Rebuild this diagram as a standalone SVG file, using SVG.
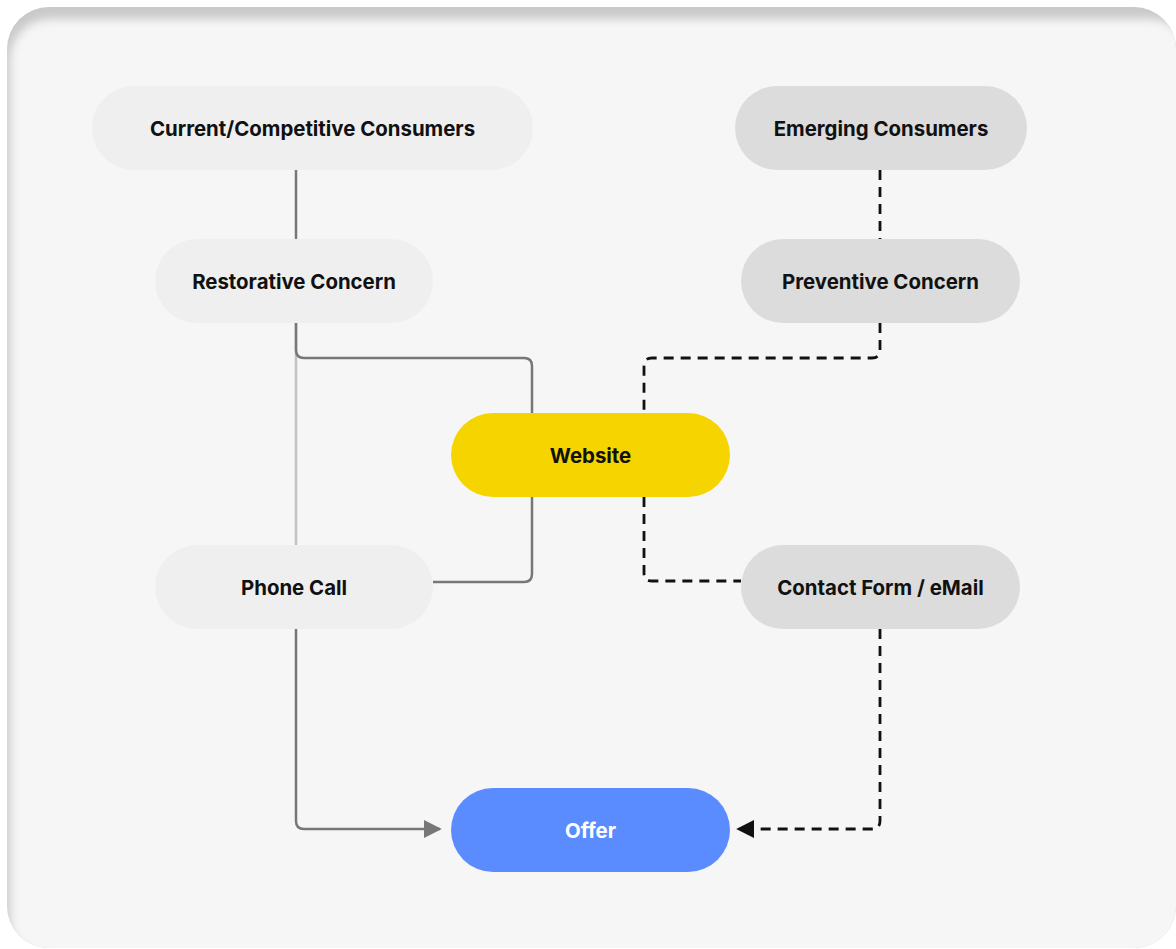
<svg xmlns="http://www.w3.org/2000/svg" width="1176" height="949" viewBox="0 0 1176 949">
  <style>
    .node text { font-family: Inter, "Noto Sans", "Liberation Sans", sans-serif; font-weight: 700; font-size: 20.4px; fill: #111; text-anchor: middle; dominant-baseline: central; }
    .light rect { fill: #efefef; }
    .mid rect { fill: #dcdcdc; }
    .solid { fill: none; stroke: #777; stroke-width: 2.5; stroke-linejoin: round; }
    .faint { fill: none; stroke: #c2c2c2; stroke-width: 2.5; }
    .dash { fill: none; stroke: #111; stroke-width: 2.8; stroke-dasharray: 10 7; }
  </style>
  <defs>
    <clipPath id="panelClip">
      <rect x="7" y="7" width="1169" height="941" rx="42"/>
    </clipPath>
    <filter id="soft" x="-5%" y="-5%" width="110%" height="110%">
      <feGaussianBlur stdDeviation="5"/>
    </filter>
    <marker id="arrowGray" viewBox="0 0 10 10" refX="9" refY="5" markerWidth="7.2" markerHeight="7.2" orient="auto" markerUnits="strokeWidth">
      <path d="M0,0 L10,5 L0,10 z" fill="#777"/>
    </marker>
    <marker id="arrowBlack" viewBox="0 0 10 10" refX="9" refY="5" markerWidth="6.5" markerHeight="6.5" orient="auto" markerUnits="strokeWidth">
      <path d="M0,0 L10,5 L0,10 z" fill="#111"/>
    </marker>
  </defs>

  <!-- background panel with soft inner shading along the top edge -->
  <rect width="1176" height="949" fill="#ffffff"/>
  <g clip-path="url(#panelClip)">
    <rect x="7" y="7" width="1169" height="941" fill="#c9c9c9"/>
    <rect x="10" y="19" width="1180" height="940" rx="40" fill="#f6f6f6" filter="url(#soft)"/>
  </g>

  <!-- connectors -->
  <g id="connectors">
    <path class="solid" d="M296,170 V239"/>
    <path class="faint" d="M296,323 V545"/>
    <path class="solid" d="M296,323 V350 Q296,358 304,358 H524 Q532,358 532,366 V413"/>
    <path class="solid" d="M532,497 V574 Q532,582 524,582 H433"/>
    <path class="solid" d="M296,629 V821 Q296,829 304,829 H440" marker-end="url(#arrowGray)"/>
    <path class="dash" d="M880,170 V239"/>
    <path class="dash" d="M880,323 V350 Q880,358 872,358 H652 Q644,358 644,366 V413"/>
    <path class="dash" d="M644,497 V573 Q644,581 652,581 H741"/>
    <path class="dash" d="M880,629 V821 Q880,829 872,829 H738" marker-end="url(#arrowBlack)"/>
  </g>

  <!-- nodes -->
  <g id="current-consumers" class="node light">
    <rect x="92" y="86" width="441" height="84" rx="42"/>
    <text x="312.5" y="128">Current/Competitive Consumers</text>
  </g>
  <g id="emerging-consumers" class="node mid">
    <rect x="735" y="86" width="292" height="84" rx="42"/>
    <text x="881" y="128">Emerging Consumers</text>
  </g>
  <g id="restorative-concern" class="node light">
    <rect x="155" y="239" width="278" height="84" rx="42"/>
    <text x="294" y="281">Restorative Concern</text>
  </g>
  <g id="preventive-concern" class="node mid">
    <rect x="741" y="239" width="279" height="84" rx="42"/>
    <text x="880.5" y="281">Preventive Concern</text>
  </g>
  <g id="website" class="node">
    <rect x="451" y="413" width="279" height="84" rx="42" fill="#f5d400"/>
    <text x="590.5" y="455">Website</text>
  </g>
  <g id="phone-call" class="node light">
    <rect x="155" y="545" width="278" height="84" rx="42"/>
    <text x="294" y="587">Phone Call</text>
  </g>
  <g id="contact-form" class="node mid">
    <rect x="741" y="545" width="279" height="84" rx="42"/>
    <text x="880.5" y="587">Contact Form / eMail</text>
  </g>
  <g id="offer" class="node">
    <rect x="451" y="788" width="279" height="84" rx="42" fill="#5b8cff"/>
    <text x="590.5" y="830" style="fill:#ffffff">Offer</text>
  </g>
</svg>
